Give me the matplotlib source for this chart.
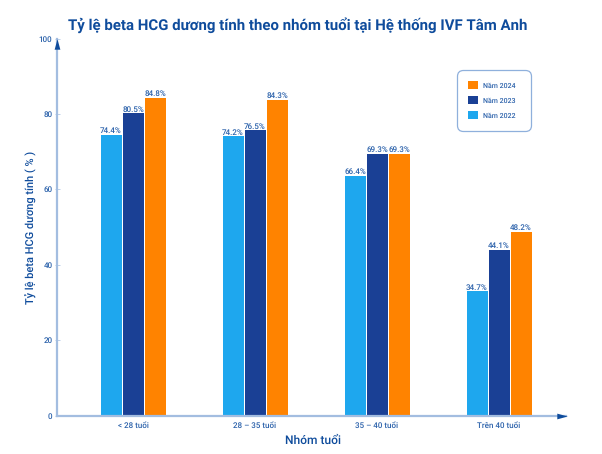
import matplotlib
matplotlib.use("Agg")
import matplotlib.pyplot as plt
import numpy as np

categories = ["< 28 tuổi", "28 – 35 tuổi", "35 – 40 tuổi", "Trên 40 tuổi"]
v2022 = [74.5, 74.1, 63.6, 33.0]
v2023 = [80.2, 75.7, 69.4, 44.0]
v2024 = [84.3, 83.7, 69.4, 48.7]
labels2022 = ["74.4%", "74.2%", "66.4%", "34.7%"]
labels2023 = ["80.5%", "76.5%", "69.3%", "44.1%"]
labels2024 = ["84.8%", "84.3%", "69.3%", "48.2%"]
yticks = [0, 20, 40, 60, 80, 100]
series_names = ["Năm 2022", "Năm 2023", "Năm 2024"]
colors = ["#1ea7ee", "#1a4095", "#ff8300"]

W, H = 602, 454
NAVY = "#0f4c9c"
AXC = "#a3bde0"
TXT = "#2c62ab"
plt.rcParams["font.family"] = ["Roboto", "DejaVu Sans"]
plt.rcParams["text.hinting"] = "no_hinting"
plt.rcParams["text.hinting_factor"] = 1

fig = plt.figure(figsize=(W / 100, H / 100), dpi=100)
left, right, top, bottom = 57, 566, 38.5, 415.5
ax = fig.add_axes([left / W, 1 - bottom / H, (right - left) / W, (bottom - top) / H])

step = 122.0
ax.set_xlim((left - 133) / step, (right - 133) / step)
ax.set_ylim(0, 100)
x = np.arange(len(categories))
w = 21 / step
off = 22 / step
for i, (vals, labs, c, n) in enumerate(zip([v2022, v2023, v2024],
                                           [labels2022, labels2023, labels2024],
                                           colors, series_names)):
    bars = ax.bar(x + (i - 1) * off, vals, width=w, color=c, label=n, zorder=2)
    for b, lab in zip(bars, labs):
        ax.annotate(lab, (b.get_x() + b.get_width() / 2, b.get_height()),
                    xytext=(0, 1.2), textcoords="offset points", ha="center", va="baseline",
                    fontsize=5.9, color=TXT, fontweight="medium")

for s in ["top", "right"]:
    ax.spines[s].set_visible(False)
for s in ["left", "bottom"]:
    ax.spines[s].set_color(AXC)
    ax.spines[s].set_linewidth(1.6)
    ax.spines[s].set_zorder(3)
up = [(-0.55, -1), (0, 1), (0.55, -1)]
rt = [(-1, -0.55), (1, 0), (-1, 0.55)]
ax.plot(0, 1 - 5 / (bottom - top), marker=up, color=NAVY, ms=7.5, mew=0,
        transform=ax.transAxes, clip_on=False, zorder=5)
ax.plot(1 - 4 / (right - left), 0, marker=rt, color=NAVY, ms=7.5, mew=0,
        transform=ax.transAxes, clip_on=False, zorder=5)

ax.set_yticks(yticks)
ax.set_xticks(x)
ax.set_xticklabels(categories, fontweight="medium")
ax.set_yticklabels([str(t) for t in yticks], fontweight="medium")
ax.tick_params(axis="y", direction="inout", length=3.6, width=0.5, color=AXC, labelsize=5.9,
               labelcolor=TXT, pad=1.5)
ax.tick_params(axis="x", length=0, labelsize=5.6, labelcolor=TXT, pad=4.5)

ax.set_xlabel("Nhóm tuổi", fontsize=8.4, fontweight="medium", color=NAVY, labelpad=4,
              x=(313 - left) / (right - left))
ax.set_ylabel("Tỷ lệ beta HCG dương tính ( % )", fontsize=8.2, fontweight="medium", color=NAVY)
ax.yaxis.set_label_coords((37 - left) / (right - left), (bottom - 227.5) / (bottom - top))
fig.text(297.5 / W, 1 - 25.5 / H, "Tỷ lệ beta HCG dương tính theo nhóm tuổi tại Hệ thống IVF Tâm Anh",
         ha="center", va="center", fontsize=10.5, fontweight="bold", color=NAVY)

h, l = ax.get_legend_handles_labels()
ax_w, ax_h = right - left, bottom - top
leg = ax.legend(h[::-1], l[::-1], loc="upper left", mode="expand",
                bbox_to_anchor=((456.5 - left) / ax_w, 1 - (131.5 - top) / ax_h,
                                74 / ax_w, 62 / ax_h),
                borderaxespad=0, labelcolor=TXT, frameon=True,
                prop={"size": 5.4, "weight": "medium"},
                edgecolor="#8fb0dc", framealpha=1, handlelength=1.27, handleheight=1.27,
                handletextpad=0.75, labelspacing=0.93, borderpad=1.55)
leg.get_frame().set_linewidth(0.9)
leg.get_frame().set_boxstyle("round", pad=0, rounding_size=0.8)

fig.savefig("out.png", dpi=100)
